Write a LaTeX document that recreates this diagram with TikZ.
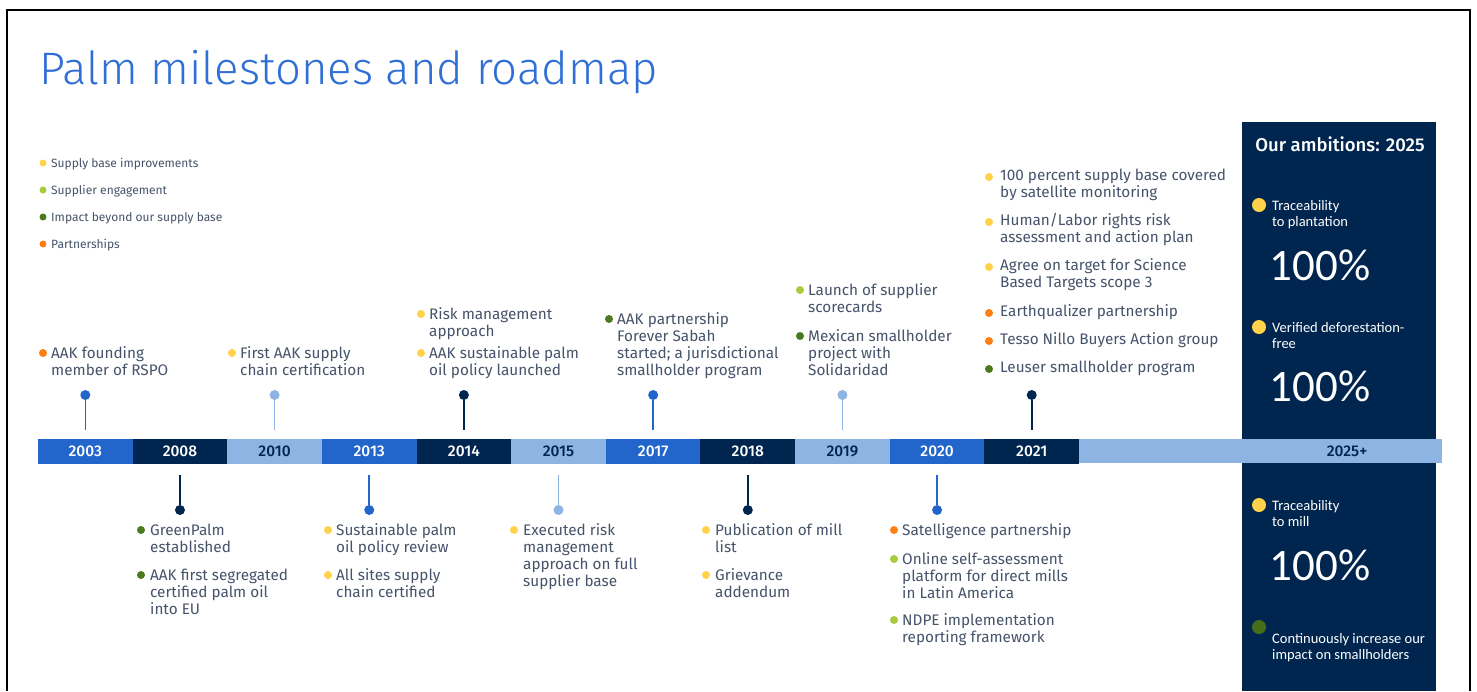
\documentclass[tikz,border=0pt]{standalone}
\usepackage{fontspec}
\setmainfont{Fira Sans}
\newfontfamily\titlefont{Fira Sans Light}
\newfontfamily\medfont{Fira Sans Medium}
\newfontfamily\panelfont{Carlito}
\newcommand\ml[1]{\begin{tabular}[t]{@{}l@{}}#1\end{tabular}}
\definecolor{cN}{HTML}{00264F}
\definecolor{cM}{HTML}{2266CC}
\definecolor{cL}{HTML}{8EB4E3}
\definecolor{cT}{HTML}{46536A}
\definecolor{cTitle}{HTML}{2F6FD6}
\definecolor{cY}{HTML}{FFD24A}
\definecolor{cG}{HTML}{A8CB3C}
\definecolor{cD}{HTML}{4C7A1E}
\definecolor{cO}{HTML}{FF7F11}
\tikzset{
  seg/.style={rectangle, inner sep=0, minimum width=94.64pt, minimum height=25pt, font=\medfont\fontsize{15.5}{17}\selectfont},
  txt/.style={inner sep=0, anchor=base west, text=cT, font=\fontsize{15.3}{17}\selectfont},
  leg/.style={inner sep=0, anchor=base west, text=cT, font=\fontsize{12}{14}\selectfont},
  bul/.style={circle, fill=#1, inner sep=0, minimum size=8pt},
  pbul/.style={circle, fill=#1, inner sep=0, minimum size=14pt},
  pin/.style={circle, fill=#1, inner sep=0, minimum size=10pt},
  stemline/.style={line width=1.6pt, draw=#1},
  ptxt/.style={inner sep=0, anchor=base west, text=white, font=\panelfont\fontsize{14.5}{16}\selectfont},
  pct/.style={inner sep=0, text=white, font=\panelfont\fontsize{45}{48}\selectfont},
}
\begin{document}
\begin{tikzpicture}[x=1pt,y=-1pt]
\useasboundingbox (0,0) rectangle (1477,691);
\fill[white] (0,0) rectangle (1477,691);
\draw[line width=2pt] (7,691) -- (7,10) -- (1470,10) -- (1470,691);
% title
\node[inner sep=0, anchor=base west, text=cTitle, font=\titlefont\fontsize{45.5}{50}\selectfont] (title) at (39,84) {Palm milestones and roadmap};
% legend
\node[bul=cY, minimum size=7pt] (lg1) at (43,163) {};
\node[leg] (lt1) at (51,167) {Supply base improvements};
\node[bul=cG, minimum size=7pt] (lg2) at (43,190) {};
\node[leg] (lt2) at (51,194) {Supplier engagement};
\node[bul=cD, minimum size=7pt] (lg3) at (43,217) {};
\node[leg] (lt3) at (51,221) {Impact beyond our supply base};
\node[bul=cO, minimum size=7pt] (lg4) at (43,244) {};
\node[leg] (lt4) at (51,248) {Partnerships};
% right panel
\fill[cN] (1242,122) rectangle (1436,691);
% bar
\fill[cL] (1079,439) rectangle (1442,463);
\node[seg, fill=cM, text=white] (y2003) at (85.32,451) {2003};
\node[seg, fill=cN, text=white] (y2008) at (179.96,451) {2008};
\node[seg, fill=cL, text=cN] (y2010) at (274.6,451) {2010};
\node[seg, fill=cM, text=white] (y2013) at (369.24,451) {2013};
\node[seg, fill=cN, text=white] (y2014) at (463.88,451) {2014};
\node[seg, fill=cL, text=cN] (y2015) at (558.52,451) {2015};
\node[seg, fill=cM, text=white] (y2017) at (653.16,451) {2017};
\node[seg, fill=cN, text=white] (y2018) at (747.8,451) {2018};
\node[seg, fill=cL, text=cN] (y2019) at (842.44,451) {2019};
\node[seg, fill=cM, text=white] (y2020) at (937.08,451) {2020};
\node[seg, fill=cN, text=white] (y2021) at (1031.72,451) {2021};
\node[inner sep=0, text=cN, font=\medfont\fontsize{15.5}{17}\selectfont] (y2025) at (1347,451) {2025+};
% upper pins
\foreach \n/\x/\c in {2003/85.32/cM, 2010/274.6/cL, 2014/463.88/cN, 2017/653.16/cM, 2019/842.44/cL, 2021/1031.72/cN}{
  \node[pin=\c] (p\n) at (\x,395) {};
  \draw[stemline=\c, shorten >=8pt] (p\n) -- (y\n);
}
% lower pins
\foreach \n/\x/\c in {2008/179.96/cN, 2013/369.24/cM, 2015/558.52/cL, 2018/747.8/cN, 2020/937.08/cM}{
  \node[pin=\c] (p\n) at (\x,510) {};
  \draw[stemline=\c, shorten >=11pt] (p\n) -- (y\n);
}
% 2003
\node[bul=cO] (b1) at (43,353) {};
\node[txt] (t1) at (51,358) {\ml{AAK founding\\member of RSPO}};
% 2010
\node[bul=cY] (b2) at (232,353) {};
\node[txt] (t2) at (240,358) {\ml{First AAK supply\\chain certification}};
% 2014
\node[bul=cY] (b3) at (421,314) {};
\node[txt] (t3) at (429,319) {\ml{Risk management\\approach}};
\node[bul=cY] (b4) at (421,353) {};
\node[txt] (t4) at (429,358) {\ml{AAK sustainable palm\\oil policy launched}};
% 2017
\node[bul=cD] (b5) at (609,319) {};
\node[txt] (t5) at (617,324) {\ml{AAK partnership\\Forever Sabah\\started; a jurisdictional\\smallholder program}};
% 2019
\node[bul=cG] (b6) at (800,290) {};
\node[txt] (t6) at (808,295) {\ml{Launch of supplier\\scorecards}};
\node[bul=cD] (b7) at (800,336) {};
\node[txt] (t7) at (808,341) {\ml{Mexican smallholder\\project with\\Solidaridad}};
% 2021
\node[bul=cY] (b8) at (989,177) {};
\node[txt] (t8) at (1000,180) {\ml{100 percent supply base covered\\by satellite monitoring}};
\node[bul=cY] (b9) at (989,222) {};
\node[txt] (t9) at (1000,225) {\ml{Human/Labor rights risk\\assessment and action plan}};
\node[bul=cY] (b10) at (989,267) {};
\node[txt] (t10) at (1000,270) {\ml{Agree on target for Science\\Based Targets scope 3}};
\node[bul=cO] (b11) at (989,313) {};
\node[txt] (t11) at (1000,316) {Earthqualizer partnership};
\node[bul=cO] (b12) at (989,341) {};
\node[txt] (t12) at (1000,344) {Tesso Nillo Buyers Action group};
\node[bul=cD] (b13) at (989,369) {};
\node[txt] (t13) at (1000,372) {Leuser smallholder program};
% 2008
\node[bul=cD] (b14) at (141,530) {};
\node[txt] (t14) at (150,535) {\ml{GreenPalm\\established}};
\node[bul=cD] (b15) at (141,575) {};
\node[txt] (t15) at (150,580) {\ml{AAK first segregated\\certified palm oil\\into EU}};
% 2013
\node[bul=cY] (b16) at (328,530) {};
\node[txt] (t16) at (336,535) {\ml{Sustainable palm\\oil policy review}};
\node[bul=cY] (b17) at (328,575) {};
\node[txt] (t17) at (336,580) {\ml{All sites supply\\chain certified}};
% 2015
\node[bul=cY] (b18) at (514,530) {};
\node[txt] (t18) at (523,535) {\ml{Executed risk\\management\\approach on full\\supplier base}};
% 2018
\node[bul=cY] (b19) at (706,530) {};
\node[txt] (t19) at (715,535) {\ml{Publication of mill\\list}};
\node[bul=cY] (b20) at (706,575) {};
\node[txt] (t20) at (715,580) {\ml{Grievance\\addendum}};
% 2020
\node[bul=cO] (b21) at (894,530) {};
\node[txt] (t21) at (902,535) {Satelligence partnership};
\node[bul=cG] (b22) at (894,559) {};
\node[txt] (t22) at (902,564) {\ml{Online self-assessment\\platform for direct mills\\in Latin America}};
\node[bul=cG] (b23) at (894,620) {};
\node[txt] (t23) at (902,625) {\ml{NDPE implementation\\reporting framework}};
% panel content
\node[inner sep=0, text=white, font=\medfont\fontsize{18.5}{20}\selectfont] (amb) at (1340,144) {Our ambitions: 2025};
\node[pbul=cY] (pb1) at (1259,205) {};
\node[ptxt] (pt1) at (1272,210) {\ml{Traceability\\to plantation}};
\node[pct] (pc1) at (1320,265) {100\%};
\node[pbul=cY] (pb2) at (1259,327) {};
\node[ptxt] (pt2) at (1272,332) {\ml{Verified deforestation-\\free}};
\node[pct] (pc2) at (1320,386) {100\%};
\node[pbul=cY] (pb3) at (1259,505) {};
\node[ptxt] (pt3) at (1272,510) {\ml{Traceability\\to mill}};
\node[pct] (pc3) at (1320,565) {100\%};
\node[pbul=cD, fill=cD!90!black] (pb4) at (1259,627) {};
\node[ptxt] (pt4) at (1272,643) {\ml{Continuously increase our\\impact on smallholders}};
\end{tikzpicture}
\end{document}
